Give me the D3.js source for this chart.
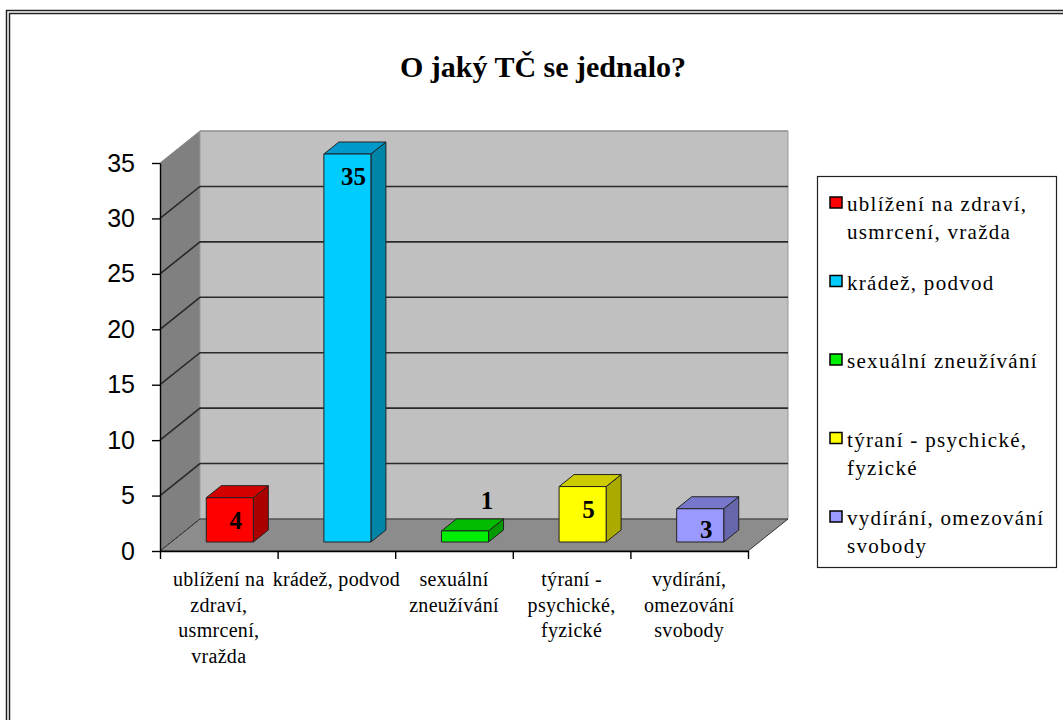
<!DOCTYPE html>
<html lang="cs">
<head>
  <meta charset="UTF-8">
  <title>O jaký TČ se jednalo?</title>
  <script src="https://d3js.org/d3.v7.min.js"></script>
  <style>
    body { margin: 0; background: #fff; }
    svg { display: block; }
    .serif { font-family: "Liberation Serif", "Times New Roman", "DejaVu Serif", serif; }
    .sans { font-family: "Liberation Sans", Arial, sans-serif; }
  </style>
</head>
<body>
<script>
  // data
  var categories = ["ublížení na zdraví, usmrcení, vražda", "krádež, podvod", "sexuální zneužívání",
                    "týraní - psychické, fyzické", "vydírání, omezování svobody"];
  var values = [4, 35, 1, 5, 3];
  var axisLines = [["ublížení na", "zdraví,", "usmrcení,", "vražda"], ["krádež, podvod"],
                   ["sexuální", "zneužívání"], ["týraní -", "psychické,", "fyzické"],
                   ["vydírání,", "omezování", "svobody"]];
  var legendLines = [["ublížení na zdraví,", "usmrcení, vražda"], ["krádež, podvod"],
                     ["sexuální zneužívání"], ["týraní - psychické,", "fyzické"],
                     ["vydírání, omezování", "svobody"]];
  var yTicks = [0, 5, 10, 15, 20, 25, 30, 35];

  // colours: front, top, side
  var colors = [
    ["#ff0000", "#d40000", "#aa0000"],
    ["#00ccff", "#0099cc", "#0085a8"],
    ["#00ee00", "#00bb00", "#009900"],
    ["#ffff00", "#cccc00", "#aaaa00"],
    ["#9999ff", "#7777cc", "#6666aa"]
  ];

  var W = 1063, H = 720;
  var svg = d3.select("body").append("svg").attr("width", W).attr("height", H);

  // double frame
  svg.append("rect").attr("x", 6.5).attr("y", 10.5).attr("width", W + 20).attr("height", H + 20)
    .attr("fill", "none").attr("stroke", "#222").attr("stroke-width", 1.5);
  svg.append("rect").attr("x", 9.5).attr("y", 13.5).attr("width", W + 20).attr("height", H + 20)
    .attr("fill", "none").attr("stroke", "#222").attr("stroke-width", 1.5);

  svg.append("text").attr("class", "serif").attr("x", 543).attr("y", 77).attr("text-anchor", "middle")
    .style("font-size", "30px").style("font-weight", "bold")
    .text("O jaký TČ se jednalo?");

  var x0 = 160, x1 = 748, yBase = 551;
  var DX = 40, DY = -32;          // wall depth
  var y = d3.scaleLinear().domain([0, 35]).range([yBase, 163]);
  var x = d3.scaleBand().domain(categories).range([x0, x1]);
  var xEdge = d3.scaleLinear().domain([0, categories.length]).range([x0, x1]);

  var g = svg.append("g");
  var pt = function(p) { return p.map(function(d) { return d.join(","); }).join(" "); };

  // left wall
  g.append("polygon").attr("points", pt([[x0, y(0)], [x0, y(35)], [x0 + DX, y(35) + DY], [x0 + DX, y(0) + DY]]))
    .attr("fill", "#808080");
  // back wall
  g.append("polygon").attr("points", pt([[x0 + DX, y(35) + DY], [x1 + DX, y(35) + DY], [x1 + DX, y(0) + DY], [x0 + DX, y(0) + DY]]))
    .attr("fill", "#c0c0c0").attr("stroke", "#999").attr("stroke-width", 1);
  // floor
  g.append("polygon").attr("points", pt([[x0, y(0)], [x1, y(0)], [x1 + DX, y(0) + DY], [x0 + DX, y(0) + DY]]))
    .attr("fill", "#8c8c8c").attr("stroke", "#333").attr("stroke-width", 1);
  g.append("line").attr("x1", x0).attr("y1", y(0)).attr("x2", x0 + DX).attr("y2", y(0) + DY)
    .attr("stroke", "#333").attr("stroke-dasharray", "3,2");

  // gridlines
  yTicks.filter(function(v) { return v > 0; }).forEach(function(v) {
    var top = v === 35;
    g.append("polyline").attr("points", pt([[x0, y(v)], [x0 + DX, y(v) + DY], [x1 + DX, y(v) + DY]]))
      .attr("fill", "none").attr("stroke", top ? "#888" : "#2a2a2a").attr("stroke-width", top ? 1 : 1.6);
  });

  // axes
  var yAxis = svg.append("g").attr("transform", "translate(" + x0 + ",0)")
    .call(d3.axisLeft(y).tickValues(yTicks).tickSize(8).tickSizeOuter(0).tickPadding(17));
  yAxis.attr("font-family", null).attr("font-size", null);
  yAxis.selectAll("text").attr("class", "sans").style("font-size", "25px").attr("fill", "#000");
  yAxis.selectAll("line, path").attr("stroke", "#000").attr("stroke-width", 1.4);

  var xAxis = svg.append("g").attr("transform", "translate(0," + yBase + ")")
    .call(d3.axisBottom(xEdge).ticks(categories.length).tickSize(8).tickSizeOuter(0).tickFormat(""));
  xAxis.selectAll("line, path").attr("stroke", "#000").attr("stroke-width", 1.4);

  // x labels
  categories.forEach(function(c, i) {
    var t = svg.append("text").attr("class", "serif").attr("text-anchor", "middle")
      .style("font-size", "20px").style("letter-spacing", "0.3px");
    axisLines[i].forEach(function(line, k) {
      t.append("tspan").attr("x", x(c) + x.bandwidth() / 2).attr("y", 586 + k * 25.5).text(line);
    });
  });

  // bars
  var bw = x.bandwidth() * 0.4, sx = 11, sy = -9, bdx = 15, bdy = -12;
  categories.forEach(function(c, i) {
    var v = values[i];
    var left = x(c) + (x.bandwidth() - bw) / 2 + sx;
    var right = left + bw;
    var top = y(v) + sy, bottom = y(0) + sy;
    var col = colors[i];
    var bar = svg.append("g").attr("stroke", "#222").attr("stroke-width", 1).attr("stroke-linejoin", "round");
    bar.append("polygon").attr("points", pt([[right, bottom], [right, top], [right + bdx, top + bdy], [right + bdx, bottom + bdy]]))
      .attr("fill", col[2]);
    bar.append("polygon").attr("points", pt([[left, top], [right, top], [right + bdx, top + bdy], [left + bdx, top + bdy]]))
      .attr("fill", col[1]);
    bar.append("rect").attr("x", left).attr("y", top).attr("width", bw).attr("height", bottom - top)
      .attr("fill", col[0]);

    var inside = bottom - top > 25;
    svg.append("text").attr("class", "serif").attr("text-anchor", "middle")
      .attr("x", left + bw / 2 + (inside ? 6 : 22))
      .attr("y", inside ? Math.min(top + 31, bottom - 4) : top - 22)
      .style("font-size", "25px").style("font-weight", "bold")
      .text(v);
  });

  // legend
  var lg = svg.append("g");
  lg.append("rect").attr("x", 817.5).attr("y", 176.5).attr("width", 239).attr("height", 391)
    .attr("fill", "#fff").attr("stroke", "#222").attr("stroke-width", 1.2);
  categories.forEach(function(c, i) {
    var by = 211 + i * 78.5;
    lg.append("rect").attr("x", 830).attr("y", by - 14).attr("width", 12).attr("height", 11)
      .attr("fill", colors[i][0]).attr("stroke", "#000").attr("stroke-width", 1.5);
    var t = lg.append("text").attr("class", "serif").style("font-size", "21px").style("letter-spacing", "1.3px");
    legendLines[i].forEach(function(line, k) {
      t.append("tspan").attr("x", 847).attr("y", by + k * 28).text(line);
    });
  });
</script>
</body>
</html>
